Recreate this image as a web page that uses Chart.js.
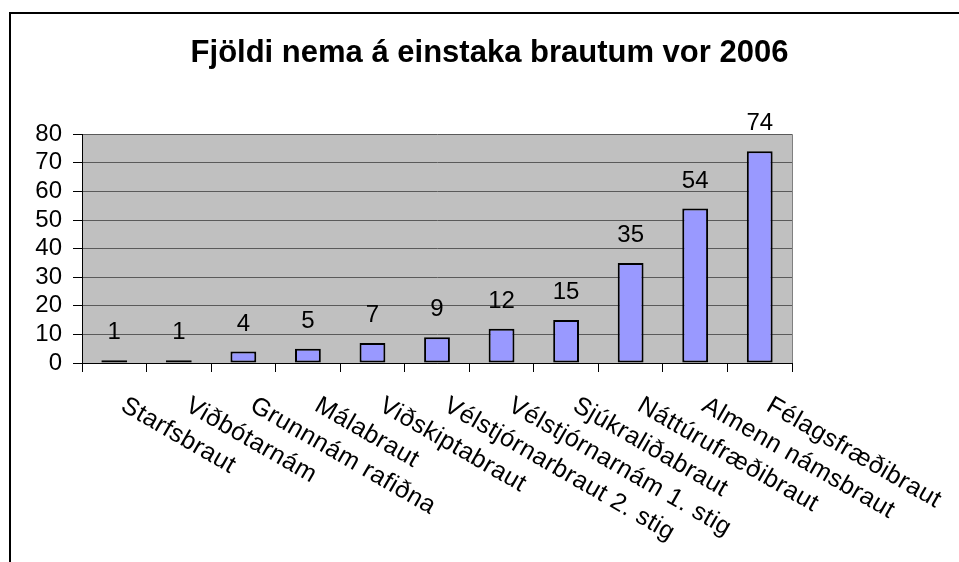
<!DOCTYPE html>
<html>
<head>
<meta charset="utf-8">
<script src="https://cdn.jsdelivr.net/npm/chart.js@4/dist/chart.umd.min.js"></script>
<style>
  body { margin: 0; background: #fff; }
  #wrap { width: 959px; height: 562px; position: relative; }
</style>
</head>
<body>
<div id="wrap"><canvas id="myChart"></canvas></div>
<script>
// data
var brautir = ["Starfsbraut", "Viðbótarnám", "Grunnnám rafiðna", "Málabraut", "Viðskiptabraut",
  "Vélstjórnarbraut 2. stig", "Vélstjórnarnám 1. stig", "Sjúkraliðabraut", "Náttúrufræðibraut",
  "Almenn námsbraut", "Félagsfræðibraut"];
var fjoldi = [1, 1, 4, 5, 7, 9, 12, 15, 35, 54, 74];
var yTicks = [0, 10, 20, 30, 40, 50, 60, 70, 80];

var FONT = 'Arial, "Liberation Sans", sans-serif';
Chart.defaults.font.family = FONT;
Chart.defaults.color = "#000";

// frame + gray plot area
var bgPlugin = {
  id: "bg",
  beforeDraw: function(chart) {
    var c = chart.ctx, a = chart.chartArea;
    c.save();
    c.fillStyle = "#fff";
    c.fillRect(0, 0, chart.width, chart.height);
    c.strokeStyle = "#000";
    c.lineWidth = 2;
    c.strokeRect(10, 13, chart.width + 20, chart.height + 20);
    c.fillStyle = "#C0C0C0";
    c.fillRect(a.left, a.top, a.right - a.left, a.bottom - a.top);
    c.restore();
  },
  afterDraw: function(chart) {
    var c = chart.ctx, a = chart.chartArea;
    c.save();
    // right edge of plot
    c.strokeStyle = "#808080";
    c.lineWidth = 1;
    c.beginPath();
    c.moveTo(Math.round(a.right) + 0.5, a.top);
    c.lineTo(Math.round(a.right) + 0.5, a.bottom);
    c.stroke();

    // value labels
    var meta = chart.getDatasetMeta(0);
    c.fillStyle = "#000";
    c.font = "24px " + FONT;
    c.textAlign = "center";
    c.textBaseline = "alphabetic";
    meta.data.forEach(function(bar, i) {
      c.fillText(String(fjoldi[i]), bar.x, bar.y - 21);
    });

    // slanted category labels
    var xs = chart.scales.x;
    c.font = "25px " + FONT;
    c.letterSpacing = "0.5px";
    c.textAlign = "left";
    c.textBaseline = "top";
    brautir.forEach(function(lab, i) {
      c.save();
      c.translate(xs.getPixelForValue(i) + 15, a.bottom + 30);
      c.rotate(Math.PI / 6);
      c.fillText(lab, 0, 0);
      c.restore();
    });
    c.restore();
  }
};

var ctx = document.getElementById("myChart");

var chart = new Chart(ctx, {
  type: "bar",
  data: {
    labels: brautir,
    datasets: [{
      data: fjoldi,
      backgroundColor: "#9999FF",
      borderColor: "#000",
      borderWidth: 2,
      borderSkipped: false,
      categoryPercentage: 1,
      barPercentage: 0.4
    }]
  },
  options: {
    responsive: true,
    maintainAspectRatio: false,
    animation: false,
    layout: { padding: { left: 20, right: 0, top: 0, bottom: 0 } },
    plugins: {
      legend: { display: false },
      tooltip: { enabled: false },
      title: {
        display: true,
        text: "Fjöldi nema á einstaka brautum vor 2006",
        font: { size: 31, weight: "bold", family: FONT },
        color: "#000",
        padding: { top: 35, bottom: 62 }
      }
    },
    scales: {
      x: {
        ticks: { display: false },
        grid: { drawOnChartArea: false, tickLength: 9, tickColor: "#000", offset: true },
        border: { color: "#000", width: 1 },
        afterFit: function(s) { s.height = 199; }
      },
      y: {
        min: 0,
        max: 80,
        afterBuildTicks: function(s) {
          s.ticks = yTicks.map(function(v) { return { value: v }; });
        },
        ticks: { autoSkip: false, padding: 11, font: { size: 24 }, color: "#000" },
        grid: {
          color: function(c) { return c.tick && c.tick.value === 0 ? "#000" : "#5a5a5a"; },
          tickColor: "#000",
          tickLength: 9,
          lineWidth: 1
        },
        border: { color: "#000", width: 1 },
        afterFit: function(s) { s.width = 62; }
      },
      y2: {
        position: "right",
        ticks: { display: false },
        grid: { display: false },
        border: { display: false },
        afterFit: function(s) { s.width = 167; }
      }
    }
  },
  plugins: [bgPlugin]
});
</script>
</body>
</html>
